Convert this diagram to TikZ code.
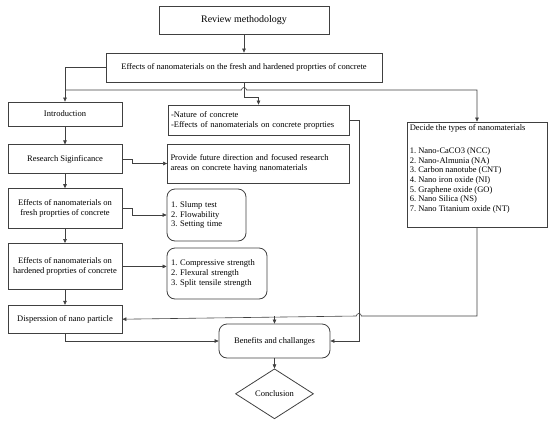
\documentclass[tikz,border=0pt]{standalone}
\usepackage{fontspec}
\setmainfont{Liberation Serif}
\usetikzlibrary{arrows.meta, positioning, calc, shapes.geometric}
\frenchspacing

\begin{document}
\begin{tikzpicture}[x=1pt, y=1pt, font=\fontsize{8.5}{9.9}\selectfont,
  box/.style={draw=black!75, line width=0.8pt, align=center, inner sep=2pt},
  lbox/.style={box, align=left, inner sep=3pt},
  rbox/.style={box, align=left, rounded corners=8pt, inner sep=4pt},
  arr/.style={draw=black!75, line width=0.6pt, -{Triangle[length=4pt, width=3.6pt]}}]
  \useasboundingbox (0,0) rectangle (550,-424);
  \node[box, minimum width=170pt, minimum height=28pt,
        font=\fontsize{10}{12}\selectfont] (rev) at (244,-20) {Review methodology};
  \node[box, minimum width=276pt, minimum height=29pt] (effects) at (244,-67.5)
       {Effects of nanomaterials on the fresh and hardened proprties of concrete};
  % left column
  \node[box, minimum width=114pt, minimum height=24pt] (intro) at (65,-114) {Introduction};
  \node[box, minimum width=114pt, minimum height=29pt, below=18pt of intro] (research)
       {Research Siginficance};
  \node[box, minimum width=114pt, minimum height=40pt, below=14pt of research] (fresh)
       {Effects of nanomaterials on\\ fresh proprties of concrete};
  \node[box, minimum width=114pt, minimum height=46pt, below=14pt of fresh] (hardened)
       {Effects of nanomaterials on\\ hardened proprties of concrete};
  \node[box, minimum width=114pt, minimum height=28pt, below=15pt of hardened] (dispersion)
       {Disperssion of nano particle};
  % middle column
  \node[lbox, text width=175pt, minimum height=30pt] (nature) at (258.5,-120)
       {-Nature of concrete\\ -Effects of nanomaterials on concrete proprties};
  \node[lbox, text width=176pt, minimum height=39pt] (provide) at (258.5,-163.5)
       {Provide future direction and focused research\\ areas on concrete having nanomaterials};
  \node[rbox, text width=71pt, minimum height=52pt] (slump) at (206.5,-215)
       {1. Slump test\\ 2. Flowability\\ 3. Setting time};
  \node[rbox, text width=92pt, minimum height=51pt] (strength) at (217,-273.5)
       {1. Compressive strength\\ 2. Flexural strength\\ 3. Split tensile strength};
  % types of nanomaterials
  \node[box, minimum width=140pt, minimum height=105pt] (decide) at (477,-174.5) {};
  \node[anchor=north west, align=left, inner sep=3pt, font=\fontsize{8.5}{9.6}\selectfont]
       (types) at (decide.north west)
       {Decide the types of nanomaterials\\[13.4pt]
        1. Nano-CaCO3 (NCC)\\ 2. Nano-Almunia (NA)\\ 3. Carbon nanotube (CNT)\\
        4. Nano iron oxide (NI)\\ 5. Graphene oxide (GO)\\ 6. Nano Silica (NS)\\
        7. Nano Titanium oxide (NT)};
  % end
  \node[box, rounded corners=8pt, minimum width=111pt, minimum height=34pt] (benefits)
       at (274.5,-341) {Benefits and challanges};
  \node[box, diamond, inner sep=0pt, minimum width=78pt, minimum height=50pt,
        below=10pt of benefits] (concl) {Conclusion};

  \coordinate (busA) at (0,-90);
  \coordinate (busB) at (0,-316);
  \coordinate (riser) at ($(nature.east)+(9.5,0)$);

  \draw[arr] (rev) -- (effects);
  \draw[arr] (effects.west) -| (intro.north);
  \draw[arr] (intro.north |- busA) -- ($(effects.south |- busA)+(-2.5,0)$)
             arc[start angle=180, end angle=0, radius=2.5pt]
             -- (decide.north |- busA) -- (decide.north);
  \draw[arr] (effects.south) -- ++(0,-15) -| (nature.north);
  \draw[arr] (intro) -- (research);
  \draw[arr] (research) -- (fresh);
  \draw[arr] (fresh) -- (hardened);
  \draw[arr] (hardened) -- (dispersion);
  \draw[arr] (research.east) -- ++(9.5,0) |- (provide.west);
  \draw[arr] (fresh.east) -- ++(9.5,0) |- (slump.west);
  \draw[arr] (hardened.east) -- (hardened.east -| strength.west);
  \draw[arr] (nature.east) -- (riser) |- (benefits.east);
  \draw[arr] (decide.south) -- (decide.south |- busB) -- ($(riser |- busB)+(2.5,0)$)
             arc[start angle=0, end angle=180, radius=2.5pt] -- (dispersion.east);
  \draw[arr] (benefits.north |- busB) -- (benefits.north);
  \draw[arr] (dispersion.south) |- (benefits.west);
  \draw[arr] (benefits) -- (concl);
\end{tikzpicture}
\end{document}
